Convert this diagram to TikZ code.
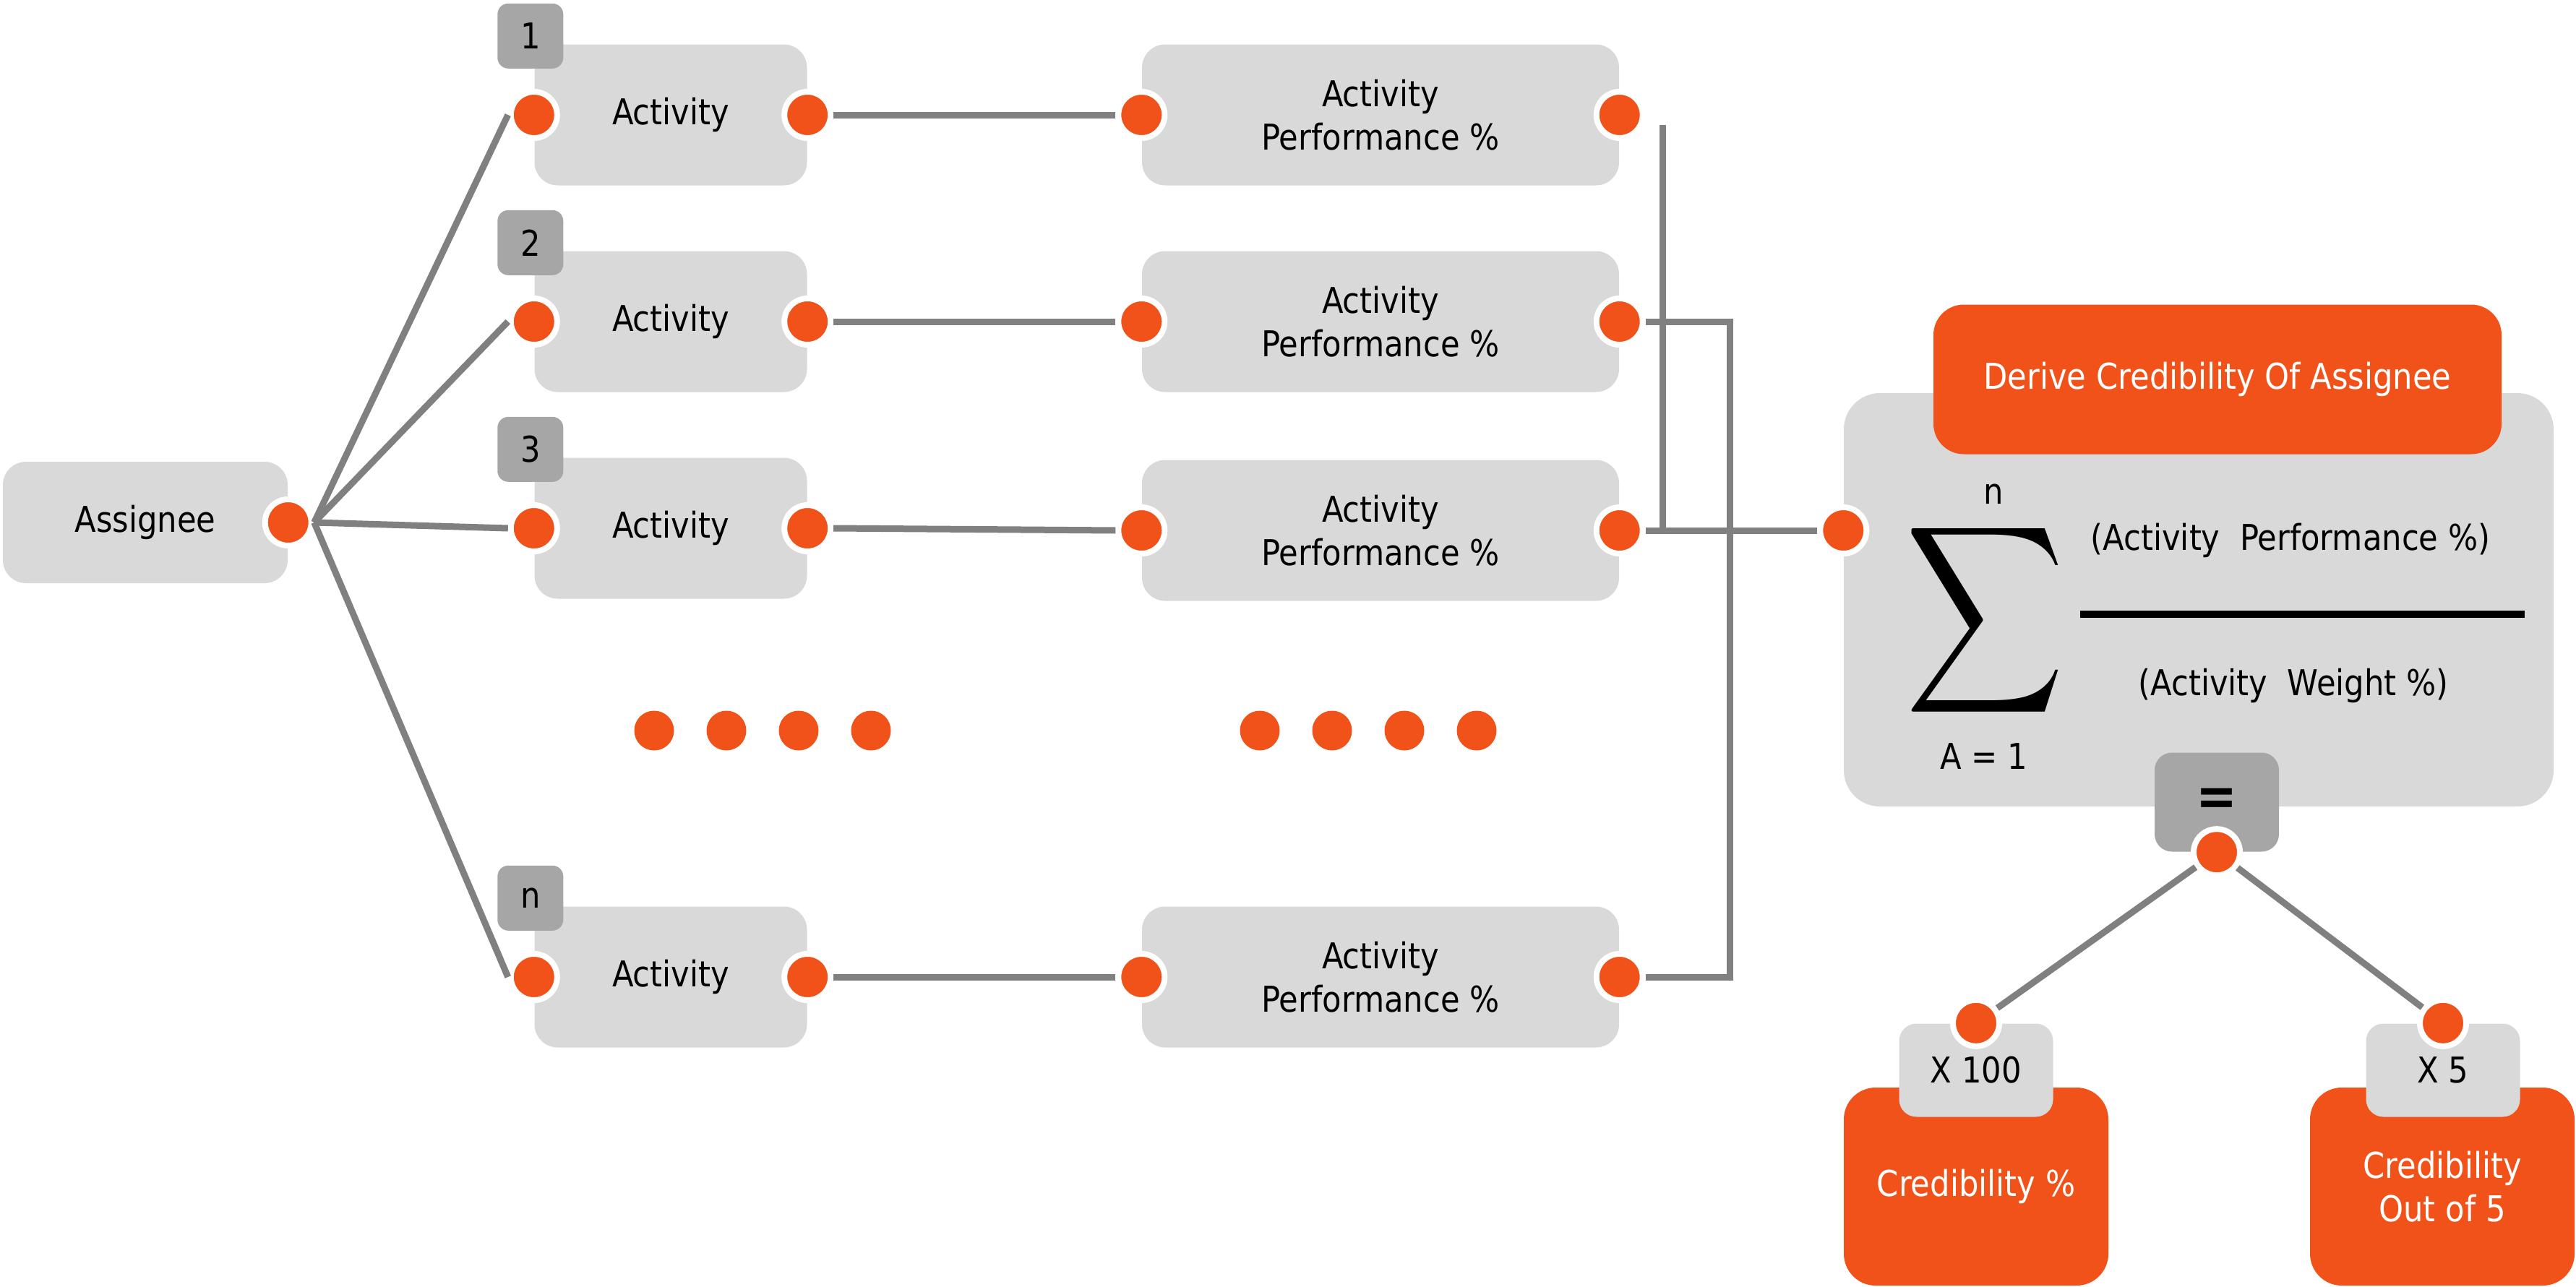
\documentclass[tikz,border=0pt]{standalone}
\usepackage{fontspec}
\setmainfont{DejaVu Sans}[FakeStretch=0.88]
\usetikzlibrary{positioning,calc}

\definecolor{boxgray}{RGB}{217,217,217}
\definecolor{taggray}{RGB}{166,166,166}
\definecolor{wiregray}{RGB}{128,128,128}
\definecolor{accent}{RGB}{240,82,26}

\tikzset{
  txt/.style={font=\fontsize{14}{17}\selectfont, align=center},
  card/.style={txt, fill=boxgray, rounded corners=0.32cm, inner sep=0pt},
  actbox/.style={card, minimum width=3.77cm, minimum height=1.95cm},
  perfbox/.style={card, minimum width=6.6cm, minimum height=1.95cm},
  numtag/.style={txt, fill=taggray, rounded corners=0.15cm, minimum width=0.91cm, minimum height=0.9cm, inner sep=0pt},
  dot/.style={circle, fill=accent, draw=white, line width=0.08cm, minimum size=0.64cm, inner sep=0pt},
  gapdot/.style={circle, fill=accent, minimum size=0.55cm, inner sep=0pt},
  wire/.style={draw=wiregray, line width=0.09cm},
  result/.style={txt, fill=accent, text=white, rounded corners=0.44cm, inner sep=0pt},
}

\begin{document}
\begin{tikzpicture}
  \useasboundingbox (0,0) rectangle (35.64,-17.81);

  % Assignee
  \node[card, minimum width=3.94cm, minimum height=1.68cm] (assignee) at (2.01,-7.23) {Assignee};
  \node[dot] (adot) at (assignee.east) {};

  % Activities
  \node[actbox] (act1) at (9.28,-1.59) {Activity};
  \node[actbox] (act2) at (9.28,-4.45) {Activity};
  \node[actbox] (act3) at (9.28,-7.31) {Activity};
  \node[actbox] (actn) at (9.28,-13.52) {Activity};
  \node[numtag] (tag1) at ($(act1.north west)+(-0.05,0.11)$) {1};
  \node[numtag] (tag2) at ($(act2.north west)+(-0.05,0.11)$) {2};
  \node[numtag] (tag3) at ($(act3.north west)+(-0.05,0.11)$) {3};
  \node[numtag] (tagn) at ($(actn.north west)+(-0.05,0.11)$) {n};
  \node[dot] (ldot1) at (act1.west) {};
  \node[dot] (ldot2) at (act2.west) {};
  \node[dot] (ldot3) at (act3.west) {};
  \node[dot] (ldotn) at (actn.west) {};
  \node[dot] (rdot1) at (act1.east) {};
  \node[dot] (rdot2) at (act2.east) {};
  \node[dot] (rdot3) at (act3.east) {};
  \node[dot] (rdotn) at (actn.east) {};

  % Performance boxes
  \node[perfbox] (perf1) at (19.10,-1.59) {Activity\\Performance \%};
  \node[perfbox] (perf2) at (19.10,-4.45) {Activity\\Performance \%};
  \node[perfbox] (perf3) at (19.10,-7.34) {Activity\\Performance \%};
  \node[perfbox] (perfn) at (19.10,-13.52) {Activity\\Performance \%};
  \node[dot] (qdot1) at (perf1.west) {};
  \node[dot] (qdot2) at (perf2.west) {};
  \node[dot] (qdot3) at (perf3.west) {};
  \node[dot] (qdotn) at (perfn.west) {};
  \node[dot] (pdot1) at (perf1.east) {};
  \node[dot] (pdot2) at (perf2.east) {};
  \node[dot] (pdot3) at (perf3.east) {};
  \node[dot] (pdotn) at (perfn.east) {};

  % Gaps between row 3 and row n
  \foreach \x [count=\i] in {9.05,10.05,11.05,12.05,17.43,18.43,19.43,20.43}
    \node[gapdot] (gap\i) at (\x,-10.11) {};

  % Fan out from assignee
  \draw[wire] (adot.east) -- (ldot1.west);
  \draw[wire] (adot.east) -- (ldot2.west);
  \draw[wire] (adot.east) -- (ldot3.west);
  \draw[wire] (adot.east) -- (ldotn.west);

  % Activity to performance
  \draw[wire] (rdot1.east) -- (qdot1.west);
  \draw[wire] (rdot2.east) -- (qdot2.west);
  \draw[wire] (rdot3.east) -- (qdot3.west);
  \draw[wire] (rdotn.east) -- (qdotn.west);

  % Formula box
  \node[card, rounded corners=0.5cm, minimum width=9.82cm, minimum height=5.72cm] (sum) at (30.42,-8.30) {};
  \node[result, rounded corners=0.42cm, minimum width=7.86cm, minimum height=2.07cm] (derive) at (30.68,-5.25) {Derive Credibility Of Assignee};
  \node[dot] (sdot) at (sum.west |- pdot3) {};
  \node[inner sep=0pt] (sigma) at (27.46,-8.58) {\resizebox*{2.2cm}{2.9cm}{$\displaystyle\sum$}};
  \node[txt] (upper) at (27.58,-6.84) {n};
  \node[txt] (lower) at (27.45,-10.47) {A = 1};
  \node[txt] (numer) at (31.69,-7.48) {(Activity\ \ Performance \%)};
  \draw[line width=0.1cm] (28.78,-8.50) -- (34.93,-8.50);
  \node[txt] (denom) at (31.73,-9.49) {(Activity\ \ Weight \%)};
  \node[numtag, rounded corners=0.24cm, minimum width=1.72cm, minimum height=1.37cm,
        font=\fontsize{22}{22}\selectfont\bfseries] (eq) at (30.67,-11.10) {\raisebox{-0.07cm}{=}};
  \node[dot] (eqdot) at (eq.south) {};

  % Collect performance values
  \coordinate (busA) at (23.0,-1.73);
  \coordinate (busB) at (23.93,-4.45);
  \draw[wire] (busA) -- (busA |- pdot3);
  \draw[wire] (pdot2.east) -- (busB) -- (busB |- pdotn) -- (pdotn.east);
  \draw[wire] (pdot3.east) -- (sdot.west);

  % Results
  \node[result, minimum width=3.66cm, minimum height=2.74cm] (credpct) at (27.34,-16.42) {Credibility \%};
  \node[result, minimum width=3.66cm, minimum height=2.74cm] (credfive) at (33.79,-16.42) {Credibility\\Out of 5};
  \node[card, rounded corners=0.24cm, minimum width=2.13cm, minimum height=1.29cm] (times100) at (27.34,-14.81) {X 100};
  \node[card, rounded corners=0.24cm, minimum width=2.13cm, minimum height=1.29cm] (times5) at (33.80,-14.81) {X 5};
  \node[dot] (tdot100) at (times100.north) {};
  \node[dot] (tdot5) at (times5.north) {};
  \draw[wire] (eqdot) -- (tdot100);
  \draw[wire] (eqdot) -- (tdot5);
\end{tikzpicture}
\end{document}
